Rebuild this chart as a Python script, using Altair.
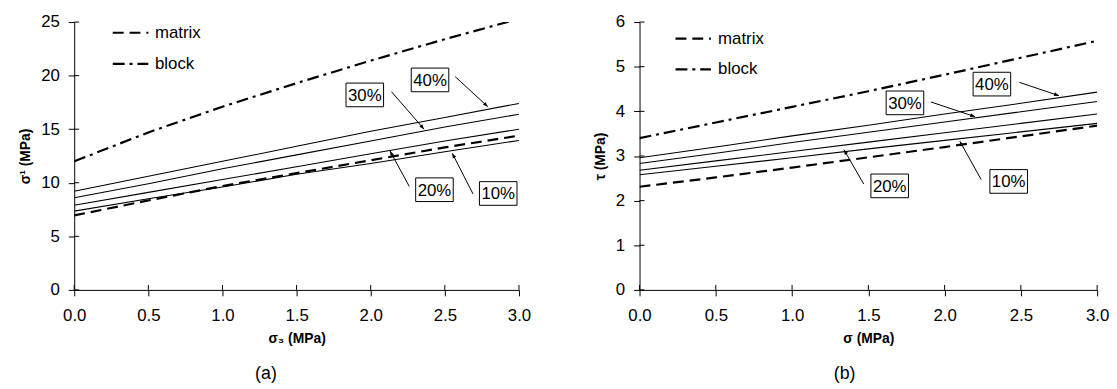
import math
import altair as alt
import pandas as pd

FONT = "Liberation Sans"

# ---------------- data ----------------
X = [0.0, 0.5, 1.0, 1.5, 2.0, 2.5, 3.0]

# panel (a): sigma1 vs sigma3
A_BLOCK = [12.0, 14.7, 17.1, 19.3, 21.4, 23.4, 25.3]
A_P40 = [9.2, 10.6, 12.0, 13.4, 14.8, 16.1, 17.4]
A_P30 = [8.6, 9.9, 11.3, 12.6, 13.9, 15.2, 16.4]
A_P20 = [7.9, 9.1, 10.3, 11.5, 12.7, 13.9, 15.0]
A_P10 = [7.35, 8.5, 9.6, 10.8, 11.8, 12.9, 13.95]
A_MATRIX = [6.95, 8.35, 9.7, 10.9, 12.1, 13.3, 14.4]

# panel (b): tau vs sigma
B_BLOCK = [3.40, 3.75, 4.10, 4.45, 4.82, 5.20, 5.58]
B_P40 = [2.96, 3.20, 3.45, 3.69, 3.94, 4.18, 4.43]
B_P30 = [2.83, 3.06, 3.30, 3.53, 3.76, 3.99, 4.22]
B_P20 = [2.68, 2.89, 3.10, 3.31, 3.52, 3.73, 3.94]
B_P10 = [2.58, 2.77, 2.96, 3.16, 3.35, 3.54, 3.73]
B_MATRIX = [2.31, 2.52, 2.74, 2.97, 3.20, 3.44, 3.68]

PCT_LABELS = ["40%", "30%", "20%", "10%"]

# label box centres (data coords)
A_LAB_X = [2.40, 1.96, 2.43, 2.86]
A_LAB_Y = [19.6, 18.2, 9.35, 9.0]
B_LAB_X = [2.31, 1.74, 1.64, 2.42]
B_LAB_Y = [4.61, 4.19, 2.33, 2.43]

# arrows: start -> tip (data coords)
A_ARR_X1 = [2.57, 2.14, 2.26, 2.69]
A_ARR_Y1 = [19.9, 18.5, 9.66, 8.96]
A_ARR_X2 = [2.79, 2.36, 2.13, 2.55]
A_ARR_Y2 = [17.1, 15.0, 12.97, 12.75]
B_ARR_X1 = [2.49, 1.91, 1.47, 2.24]
B_ARR_Y1 = [4.65, 4.21, 2.37, 2.47]
B_ARR_X2 = [2.75, 2.20, 1.34, 2.10]
B_ARR_Y2 = [4.35, 3.88, 3.14, 3.33]

# legend placement (data coords)
A_LEG = dict(x1=0.26, x2=0.50, xt=0.545, y_matrix=24.0, y_block=21.1)
B_LEG = dict(x1=0.236, x2=0.468, xt=0.515, y_matrix=5.63, y_block=4.94)

X_TICKS = [0.0, 0.5, 1.0, 1.5, 2.0, 2.5, 3.0]
A_Y_TICKS = [0, 5, 10, 15, 20, 25]
B_Y_TICKS = [0, 1, 2, 3, 4, 5, 6]

H = 271
DASH_MATRIX = [11, 6]
DASH_BLOCK = [12, 5, 3, 5]


def panel(width, ymax, yticks, xtitle, ytitle, ytpad, sub, sub_dx, block, pcts, matrix,
          lab_x, lab_y, ax1, ay1, ax2, ay2, leg):
    sx = width / 3.0
    sy = H / ymax
    xenc = alt.X("x:Q", scale=alt.Scale(domain=[0, 3], nice=False),
                 axis=alt.Axis(values=X_TICKS, format=".1f", title=xtitle))
    yenc = alt.Y("y:Q", scale=alt.Scale(domain=[0, ymax], nice=False),
                 axis=alt.Axis(values=yticks, format="d", title=ytitle, titlePadding=ytpad))

    solid_rows = []
    for lab, ys in zip(PCT_LABELS, pcts):
        for xv, yv in zip(X, ys):
            solid_rows.append({"x": xv, "y": yv, "s": lab})
    df_solid = pd.DataFrame(solid_rows)
    df_matrix = pd.DataFrame({"x": X, "y": matrix})
    df_block = pd.DataFrame({"x": X, "y": block})

    solid = alt.Chart(df_solid).mark_line(color="black", strokeWidth=1.1, clip=True).encode(
        x=xenc, y=yenc, detail="s:N")
    mline = alt.Chart(df_matrix).mark_line(color="black", strokeWidth=2.2,
                                           strokeDash=DASH_MATRIX, clip=True).encode(x=xenc, y=yenc)
    bline = alt.Chart(df_block).mark_line(color="black", strokeWidth=2.2,
                                          strokeDash=DASH_BLOCK, clip=True).encode(x=xenc, y=yenc)

    # legend
    df_leg = pd.DataFrame({"x": [leg["x1"], leg["x1"]], "x2": [leg["x2"], leg["x2"]],
                           "y": [leg["y_matrix"], leg["y_block"]],
                           "xt": [leg["xt"], leg["xt"]],
                           "name": ["matrix", "block"]})
    leg_m = alt.Chart(df_leg.iloc[[0]]).mark_rule(color="black", strokeWidth=2.2,
                                                  strokeDash=DASH_MATRIX).encode(
        x=xenc, x2="x2:Q", y=yenc)
    leg_b = alt.Chart(df_leg.iloc[[1]]).mark_rule(color="black", strokeWidth=2.2,
                                                  strokeDash=DASH_BLOCK).encode(
        x=xenc, x2="x2:Q", y=yenc)
    leg_t = alt.Chart(df_leg).mark_text(align="left", baseline="middle", font=FONT,
                                        fontSize=17, color="black").encode(
        x=alt.X("xt:Q", scale=alt.Scale(domain=[0, 3], nice=False)), y=yenc, text="name:N")

    # arrows
    angles = []
    for x1, y1, x2, y2 in zip(ax1, ay1, ax2, ay2):
        dx = (x2 - x1) * sx
        dys = -(y2 - y1) * sy
        angles.append(math.degrees(math.atan2(dx, -dys)) % 360)
    df_arr = pd.DataFrame({"x": ax1, "y": ay1, "x2": ax2, "y2": ay2,
                           "tx": ax2, "ty": ay2, "ang": angles})
    arr = alt.Chart(df_arr).mark_rule(color="black", strokeWidth=1).encode(
        x=xenc, y=yenc, x2="x2:Q", y2="y2:Q")
    heads = alt.Chart(df_arr).mark_point(shape="M0,0L-0.38,1L0.38,1Z", filled=True,
                                         color="black", opacity=1, size=100,
                                         strokeWidth=0).encode(
        x=alt.X("tx:Q", scale=alt.Scale(domain=[0, 3], nice=False)),
        y=alt.Y("ty:Q", scale=alt.Scale(domain=[0, ymax], nice=False)),
        angle=alt.Angle("ang:Q", scale=None))

    # labelled boxes
    df_lab = pd.DataFrame({"x": lab_x, "y": lab_y, "t": PCT_LABELS})
    boxes = alt.Chart(df_lab).mark_point(shape="M-1,-0.63H1V0.63H-1Z", filled=True,
                                         fill="white", stroke="black", strokeWidth=1,
                                         opacity=1, size=1444).encode(x=xenc, y=yenc)
    texts = alt.Chart(df_lab).mark_text(font=FONT, fontSize=17, color="black",
                                        baseline="middle", dy=1).encode(
        x=xenc, y=yenc, text="t:N")

    # inner halves of crossing ticks
    df_xt = pd.DataFrame({"x": X_TICKS})
    df_yt = pd.DataFrame({"y": yticks})
    xin = alt.Chart(df_xt).mark_rule(color="black", strokeWidth=1).encode(
        x=xenc, y=alt.value(H), y2=alt.value(H - 5))
    yin = alt.Chart(df_yt).mark_rule(color="black", strokeWidth=1).encode(
        y=yenc, x=alt.value(0), x2=alt.value(5))

    return alt.layer(solid, mline, bline, leg_m, leg_b, leg_t, arr, heads, boxes, texts,
                     xin, yin).properties(
        width=width, height=H,
        title=alt.TitleParams(sub, orient="bottom", fontSize=18, fontWeight="normal",
                              font=FONT, color="black", offset=20, dx=sub_dx))


left = panel(450, 25, A_Y_TICKS, "σ₃ (MPa)", "σ¹ (MPa)", 8, "(a)", -31, A_BLOCK,
             [A_P40, A_P30, A_P20, A_P10], A_MATRIX, A_LAB_X, A_LAB_Y,
             A_ARR_X1, A_ARR_Y1, A_ARR_X2, A_ARR_Y2, A_LEG)
right = panel(463, 6, B_Y_TICKS, "σ (MPa)", "τ (MPa)", 8, "(b)", -24, B_BLOCK,
              [B_P40, B_P30, B_P20, B_P10], B_MATRIX, B_LAB_X, B_LAB_Y,
              B_ARR_X1, B_ARR_Y1, B_ARR_X2, B_ARR_Y2, B_LEG)

chart = alt.hconcat(left, right, spacing=63).resolve_scale(x="independent", y="independent").properties(
    padding={"left": 11, "top": 3, "right": 0, "bottom": 0}
).configure_view(stroke=None).configure_axis(
    grid=False, domainColor="black", tickColor="black", tickSize=6,
    labelFont=FONT, labelFontSize=17, labelColor="black", labelPadding=9, labelFlush=False,
    titleFont=FONT, titleFontSize=14, titleFontWeight="bold", titleColor="black",
    domainWidth=1, tickWidth=1
).configure_axisX(labelPadding=12, titlePadding=8)

chart.save("out.html", embed_options={"renderer": "svg", "actions": False})
